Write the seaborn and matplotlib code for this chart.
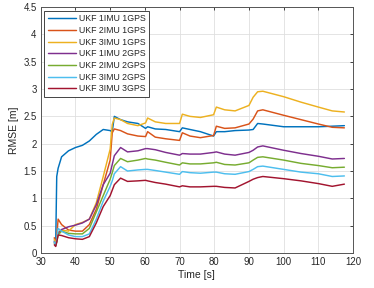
import pandas as pd
import seaborn as sns
import matplotlib
matplotlib.use('Agg')
import matplotlib.pyplot as plt

# time axis shared by all filters
time_s = [33.9, 34.3, 34.6, 35.0, 36, 38, 40, 42, 44, 46, 48, 50, 50.6, 51.2, 53, 55, 58,
          60.2, 60.8, 63, 66, 70, 70.8, 73, 76, 79.8, 80.6, 83, 86, 90, 91.2, 92.5, 94,
          100, 105, 110, 114, 117.5]

ukf_1imu_1gps = [0.22, 0.15, 1.40, 1.55, 1.76, 1.87, 1.93, 1.97, 2.05, 2.17, 2.26, 2.24, 2.22, 2.50, 2.44, 2.40, 2.37,
                 2.28, 2.31, 2.27, 2.26, 2.22, 2.29, 2.26, 2.22, 2.14, 2.22, 2.22, 2.24, 2.25, 2.26, 2.37, 2.36,
                 2.31, 2.31, 2.31, 2.32, 2.33]
ukf_2imu_1gps = [0.28, 0.18, 0.30, 0.62, 0.52, 0.42, 0.40, 0.40, 0.52, 0.80, 1.25, 1.70, 2.20, 2.27, 2.24, 2.18, 2.14,
                 2.13, 2.22, 2.12, 2.09, 2.06, 2.20, 2.14, 2.11, 2.15, 2.32, 2.28, 2.29, 2.36, 2.45, 2.60, 2.62,
                 2.52, 2.44, 2.36, 2.30, 2.29]
ukf_3imu_1gps = [0.25, 0.17, 0.25, 0.38, 0.42, 0.40, 0.52, 0.56, 0.62, 0.92, 1.40, 1.90, 2.35, 2.47, 2.44, 2.37, 2.33,
                 2.38, 2.47, 2.40, 2.37, 2.37, 2.54, 2.50, 2.48, 2.53, 2.67, 2.62, 2.60, 2.70, 2.85, 2.95, 2.96,
                 2.86, 2.76, 2.67, 2.60, 2.58]
ukf_1imu_2gps = [0.20, 0.14, 0.22, 0.35, 0.43, 0.48, 0.51, 0.55, 0.62, 0.88, 1.25, 1.46, 1.62, 1.78, 1.93, 1.85, 1.87,
                 1.91, 1.91, 1.89, 1.84, 1.79, 1.82, 1.81, 1.81, 1.84, 1.85, 1.81, 1.79, 1.84, 1.88, 1.94, 1.96,
                 1.88, 1.82, 1.77, 1.72, 1.73]
ukf_2imu_2gps = [0.18, 0.13, 0.20, 0.33, 0.40, 0.36, 0.35, 0.35, 0.45, 0.75, 1.05, 1.35, 1.47, 1.60, 1.73, 1.67, 1.70,
                 1.73, 1.72, 1.70, 1.66, 1.61, 1.65, 1.63, 1.63, 1.65, 1.66, 1.62, 1.61, 1.65, 1.70, 1.75, 1.76,
                 1.70, 1.64, 1.60, 1.56, 1.57]
ukf_3imu_2gps = [0.20, 0.14, 0.25, 0.45, 0.40, 0.33, 0.30, 0.30, 0.35, 0.62, 0.95, 1.22, 1.32, 1.45, 1.58, 1.50, 1.52,
                 1.53, 1.53, 1.51, 1.48, 1.44, 1.49, 1.47, 1.46, 1.48, 1.48, 1.45, 1.44, 1.49, 1.53, 1.58, 1.59,
                 1.53, 1.48, 1.45, 1.40, 1.41]
ukf_3imu_3gps = [0.15, 0.12, 0.20, 0.33, 0.32, 0.28, 0.26, 0.25, 0.30, 0.55, 0.85, 1.05, 1.15, 1.25, 1.37, 1.31, 1.32,
                 1.33, 1.32, 1.29, 1.26, 1.21, 1.23, 1.21, 1.21, 1.22, 1.22, 1.20, 1.19, 1.31, 1.35, 1.38, 1.40,
                 1.36, 1.32, 1.27, 1.22, 1.26]

labels = ['UKF 1IMU 1GPS', 'UKF 2IMU 1GPS', 'UKF 3IMU 1GPS', 'UKF 1IMU 2GPS',
          'UKF 2IMU 2GPS', 'UKF 3IMU 2GPS', 'UKF 3IMU 3GPS']
series = [ukf_1imu_1gps, ukf_2imu_1gps, ukf_3imu_1gps, ukf_1imu_2gps,
          ukf_2imu_2gps, ukf_3imu_2gps, ukf_3imu_3gps]

x_ticks = [30, 40, 50, 60, 70, 80, 90, 100, 110, 120]
y_ticks = [0, 0.5, 1, 1.5, 2, 2.5, 3, 3.5, 4, 4.5]
y_tick_labels = ['0', '0.5', '1', '1.5', '2', '2.5', '3', '3.5', '4', '4.5']

# matlab default colour order
colors = ['#0072BD', '#D95319', '#EDB120', '#7E2F8E', '#77AC30', '#4DBEEE', '#A2142F']

df = pd.concat([pd.DataFrame({'Time': time_s, 'RMSE': vals, 'Filter': name})
                for name, vals in zip(labels, series)], ignore_index=True)

sns.set_style('whitegrid')
plt.rcParams['font.family'] = ['Liberation Sans', 'DejaVu Sans']

fig = plt.figure(figsize=(3.74, 2.88), dpi=100)
ax = fig.add_axes([0.109, 0.1215, 0.835, 0.854])

sns.lineplot(data=df, x='Time', y='RMSE', hue='Filter', hue_order=labels,
             palette=colors, linewidth=1.05, ax=ax, sort=False, estimator=None)

ax.set_xlim(30, 120)
ax.set_ylim(0, 4.5)
ax.set_xticks(x_ticks)
ax.set_yticks(y_ticks)
ax.set_yticklabels(y_tick_labels)
ax.set_xlabel('Time [s]', fontsize=7.5, color='#262626', labelpad=2)
ax.set_ylabel('RMSE [m]', fontsize=7.5, color='#262626', labelpad=3)
ax.tick_params(axis='both', which='both', direction='in', length=2.5, width=0.6,
               labelsize=6.9, colors='#262626', top=True, right=True, pad=3)
ax.grid(True, color='#dfdfdf', linewidth=0.6)
for side in ax.spines.values():
    side.set_visible(True)
    side.set_color('#555555')
    side.set_linewidth(0.7)

leg = ax.legend(loc='upper left', fontsize=6.3, handlelength=3.2, frameon=True,
                fancybox=False, edgecolor='#262626', framealpha=1,
                borderpad=0.4, labelspacing=0.3, handletextpad=0.4,
                borderaxespad=0, bbox_to_anchor=(0.011, 0.984))
leg.get_frame().set_linewidth(0.6)

fig.savefig('out.png', dpi=100)
